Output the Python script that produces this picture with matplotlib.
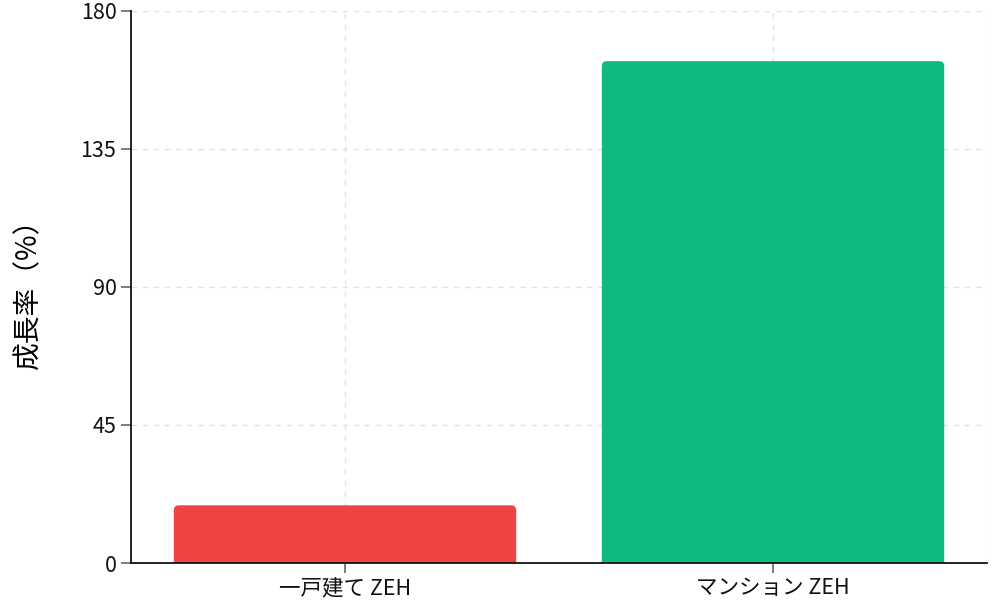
import numpy as np
import matplotlib.pyplot as plt
from matplotlib.patches import FancyBboxPatch

plt.rcParams['font.family'] = ['Noto Sans CJK JP', 'DejaVu Sans']

categories = ['一戸建て ZEH', 'マンション ZEH']
growth = [18.8, 163.5]
colors = ['#EF4444', '#10B981']
yticks = [0, 45, 90, 135, 180]

fig = plt.figure(figsize=(9.97, 6.07), dpi=100)
ax = fig.add_axes([131 / 997, 1 - 563 / 607, (987 - 131) / 997, (563 - 10.5) / 607])

x = np.arange(len(categories))
bars = ax.bar(x, growth, width=0.8, color=colors)
ax.set_xlim(-0.5, len(categories) - 0.5)
ax.set_ylim(0, 180)

# rounded top corners
bbox = ax.get_window_extent()
xr = ax.get_xlim()[1] - ax.get_xlim()[0]
yr = ax.get_ylim()[1] - ax.get_ylim()[0]
r_px = 5
rx = r_px * xr / bbox.width
aspect = (yr / bbox.height) / (xr / bbox.width)
for b in bars:
    bx, bw, bh = b.get_x(), b.get_width(), b.get_height()
    col = b.get_facecolor()
    b.remove()
    extra = 10
    p = FancyBboxPatch((bx, -extra), bw, bh + extra,
                       boxstyle=f"round,pad=0,rounding_size={rx}",
                       mutation_aspect=aspect, facecolor=col, edgecolor='none',
                       zorder=3)
    ax.add_patch(p)

ax.set_yticks(yticks)
ax.set_xticks(x)
ax.set_xticklabels(categories)
ax.set_ylabel('成長率（%）', fontsize=20)
ax.yaxis.set_label_coords(-88 / 856, 0.50)

ax.grid(True, color='#e2e2e2', linestyle=(0, (4, 4)), linewidth=1, zorder=0)
ax.axvline(ax.get_xlim()[1], color='#e2e2e2', linestyle=(0, (4, 4)), linewidth=1, zorder=0)
ax.set_axisbelow(True)

for s in ['top', 'right']:
    ax.spines[s].set_visible(False)
for s in ['left', 'bottom']:
    ax.spines[s].set_color('#111111')
    ax.spines[s].set_linewidth(1.3)
    ax.spines[s].set_zorder(4)

ax.tick_params(axis='both', colors='#666666', labelcolor='#111111', labelsize=15.5,
               length=7, width=1.2)
ax.tick_params(axis='x', pad=3)

fig.savefig('out.png', dpi=100)
